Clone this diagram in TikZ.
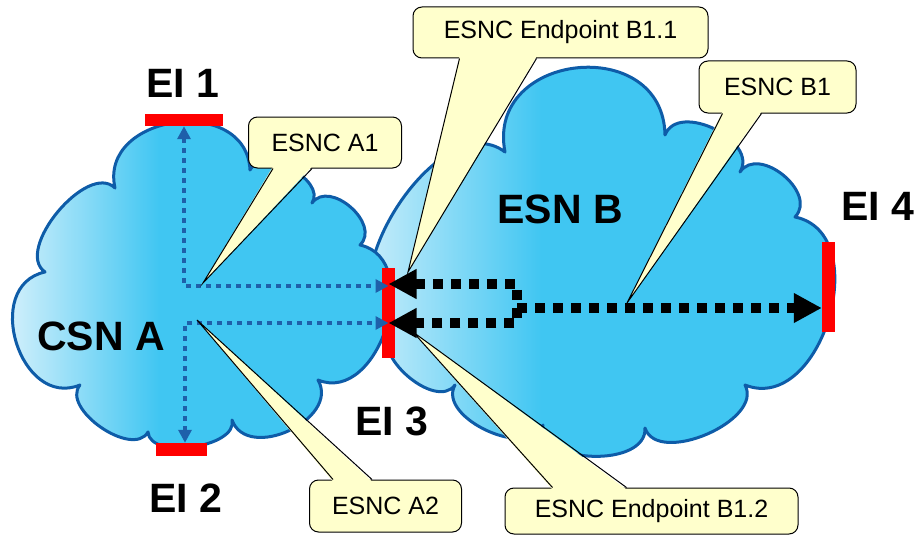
\documentclass[tikz,border=0pt]{standalone}
\usepackage{fontspec}
\setmainfont{Liberation Sans}
\usetikzlibrary{arrows.meta,calc}

\definecolor{cloudblue}{RGB}{64,198,242}
\definecolor{cloudlight}{RGB}{236,247,253}
\definecolor{cloudedge}{RGB}{14,92,168}
\definecolor{dotblue}{RGB}{30,96,170}
\definecolor{notefill}{RGB}{255,255,204}
\pgfdeclarehorizontalshading{cloudshade}{100bp}{color(0bp)=(cloudlight); color(25bp)=(cloudlight); color(45bp)=(cloudblue); color(100bp)=(cloudblue)}

\tikzset{
  netcloud/.style={shade, shading=cloudshade, draw=cloudedge, line width=3pt, line join=round},
  puff/.style={bend left=95, looseness=#1},
  eibar/.style={fill=red, inner sep=0pt},
  netlabel/.style={font=\fontsize{41}{41}\selectfont\bfseries, anchor=base, inner sep=0pt},
  note/.style={draw, line width=1pt, fill=notefill, rounded corners=9pt, font=\fontsize{25}{25}\selectfont, inner sep=0pt, minimum height=51pt},
  csnline/.style={draw=dotblue, line width=4.5pt, dash pattern=on 4.5pt off 5.5pt, {Triangle[length=13pt,width=13pt]}-{Triangle[length=13pt,width=13pt]}},
  esnline/.style={draw=black, line width=10pt, dash pattern=on 10pt off 8pt},
}

\begin{document}
\begin{tikzpicture}[x=1pt,y=-1pt]
  \useasboundingbox (0,0) rectangle (919,535);

  % ESN B cloud
  \path[netcloud] (505,152) to[puff=1.62] (665,135) to[puff=1.12] (740,172)
    to[puff=1.2] (795,217) to[puff=1.2] (745,385) to[puff=0.95] (645,428)
    to[puff=1.0] (543,425) to[puff=1.0] (455,385) to[puff=1.0] (392,330)
    to[puff=1.0] (505,152) -- cycle;
  % CSN A cloud
  \path[netcloud] (115,188) to[puff=1.43] (250,170) to[puff=1.0] (312,203)
    to[puff=1.2] (360,245) to[puff=1.2] (318,380) to[puff=1.22] (232,420)
    to[puff=0.85] (148,432) to[puff=0.95] (80,385) to[puff=1.4] (45,272)
    to[puff=0.9] (115,188) -- cycle;
  \node[netlabel] (csnlab) at (101,350) {CSN A};
  \node[netlabel] (esnlab) at (560,223) {ESN B};

  % interfaces
  \node[eibar, minimum width=78pt, minimum height=12pt] (ei1) at (184,120) {};
  \node[eibar, minimum width=51pt, minimum height=13pt] (ei2) at (181.5,449.5) {};
  \node[eibar, minimum width=13pt, minimum height=90pt] (ei3) at (388.5,313) {};
  \node[eibar, minimum width=13pt, minimum height=90pt] (ei4) at (828.5,287) {};
  \node[netlabel] (ei1lab) at (183,97) {EI 1};
  \node[netlabel] (ei2lab) at (186,512) {EI 2};
  \node[netlabel] (ei3lab) at (391.5,435) {EI 3};
  \node[netlabel] (ei4lab) at (877.5,220) {EI 4};

  % connections in CSN A
  \coordinate (j1) at (184,286);
  \coordinate (j2) at (185,323);
  \draw[csnline] (ei1.south) |- (ei3.center |- j1);
  \draw[csnline] (ei2.north -| j2) |- (ei3.center |- j2);

  % connection in ESN B
  \coordinate (up) at (517,284);
  \coordinate (down) at (517,323);
  \coordinate (fork) at (517,308);
  \draw[esnline, {Triangle[length=28pt,width=28pt]}-{Triangle[length=28pt,width=28pt]}] (ei3.center |- up) -- (up) -- (down) -- (ei3.center |- down);
  \draw[esnline, -{Triangle[length=28pt,width=28pt]}] (fork) -- (fork -| ei4.west);

  % callouts
  \node[note, minimum width=153pt] (a1) at (325,142.5) {ESNC A1};
  \node[note, minimum width=152pt, minimum height=52pt] (a2) at (385.5,506) {ESNC A2};
  \node[note, minimum width=295pt] (b11) at (560.5,32.5) {ESNC Endpoint B1.1};
  \node[note, minimum width=157pt, minimum height=52pt] (b1) at (777.5,87) {ESNC B1};
  \node[note, minimum width=293pt, minimum height=46pt] (b12) at (651.5,511) {ESNC Endpoint B1.2};
  \coordinate (a1tip) at (203,283);
  \coordinate (a2tip) at (197,320);
  \coordinate (b11tip) at (408,272);
  \coordinate (b1tip) at (627,303);
  \coordinate (b12tip) at (413,332);

  \fill[notefill] ($(a1.south west)+(25,-2)$) -- (a1tip) -- ($(a1.south west)+(64,-2)$) -- cycle;
  \draw[line width=1pt] ($(a1.south west)+(25,0)$) -- (a1tip) -- ($(a1.south west)+(64,0)$);
  \fill[notefill] ($(a2.north west)+(24,2)$) -- (a2tip) -- ($(a2.north west)+(63,2)$) -- cycle;
  \draw[line width=1pt] ($(a2.north west)+(24,0)$) -- (a2tip) -- ($(a2.north west)+(63,0)$);
  \fill[notefill] ($(b11.south west)+(47,-2)$) -- (b11tip) -- ($(b11.south west)+(124,-2)$) -- cycle;
  \draw[line width=1pt] ($(b11.south west)+(47,0)$) -- (b11tip) -- ($(b11.south west)+(124,0)$);
  \fill[notefill] ($(b1.south west)+(24,-2)$) -- (b1tip) -- ($(b1.south west)+(63,-2)$) -- cycle;
  \draw[line width=1pt] ($(b1.south west)+(24,0)$) -- (b1tip) -- ($(b1.south west)+(63,0)$);
  \fill[notefill] ($(b12.north west)+(48,2)$) -- (b12tip) -- ($(b12.north west)+(122,2)$) -- cycle;
  \draw[line width=1pt] ($(b12.north west)+(48,0)$) -- (b12tip) -- ($(b12.north west)+(122,0)$);
\end{tikzpicture}
\end{document}
